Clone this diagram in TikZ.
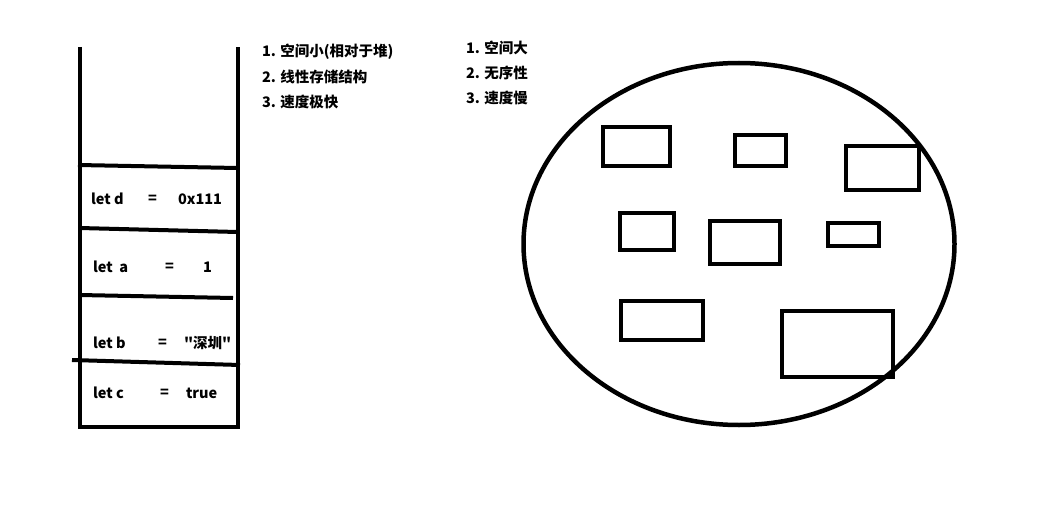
\documentclass[tikz,border=0pt]{standalone}
\usepackage{fontspec}
\setmainfont{Noto Sans CJK SC}[Ligatures=TeXOff]
\usetikzlibrary{positioning}

\begin{document}
\begin{tikzpicture}[x=1pt,y=-1pt,line width=4pt,
  font=\bfseries\fontsize{14.5}{16}\selectfont]
\tikzstyle{cell}=[anchor=west,inner sep=0pt]
\tikzstyle{note}=[anchor=west,inner sep=0pt]
\tikzstyle{block}=[line width=4.3pt]
\useasboundingbox (0,0) rectangle (1062,524);

% stack
\draw (79.5,47) -- (79.5,427) -- (237.5,427) -- (237.5,47);
\draw (78,165) -- (237.5,168);
\draw (79.5,228) -- (237.5,232);
\draw (79.5,295) -- (233,298);
\draw (72,360) -- (240,365);

\node[cell] (dname) at (89,199)  {let d};
\node[cell] (deq)   at (146,199) {=};
\node[cell] (dval)  at (176,199) {0x111};
\node[cell] (aname) at (91,267)  {let\ \ a};
\node[cell] (aeq)   at (163,267) {=};
\node[cell] (aval)  at (201,267) {1};
\node[cell] (bname) at (91,343)  {let b};
\node[cell] (beq)   at (156,343) {=};
\node[cell] (bval)  at (182,343) {"深圳"};
\node[cell] (cname) at (91,393)  {let c};
\node[cell] (ceq)   at (158,393) {=};
\node[cell] (cval)  at (184,393) {true};

% notes
\node[note] (stack1) at (260,52)  {1. 空间小(相对于堆)};
\node[note] (stack2) at (260,77)  {2. 线性存储结构};
\node[note] (stack3) at (260,102) {3. 速度极快};
\node[note] (heap1)  at (464,48)  {1. 空间大};
\node[note] (heap2)  at (464,73)  {2. 无序性};
\node[note] (heap3)  at (464,98)  {3. 速度慢};

% heap
\draw[line width=4.5pt] (739,244) ellipse (215.5 and 181);
\draw[block] (603,127) rectangle (670,166);
\draw[block] (735,135) rectangle (786,166);
\draw[block] (846,146) rectangle (919,190);
\draw[block] (620,213) rectangle (674,250);
\draw[block] (710,221) rectangle (780,264);
\draw[block] (828,223) rectangle (879,246);
\draw[block] (621,301) rectangle (703,340);
\draw[block] (782,311) rectangle (893,377);
\end{tikzpicture}
\end{document}
